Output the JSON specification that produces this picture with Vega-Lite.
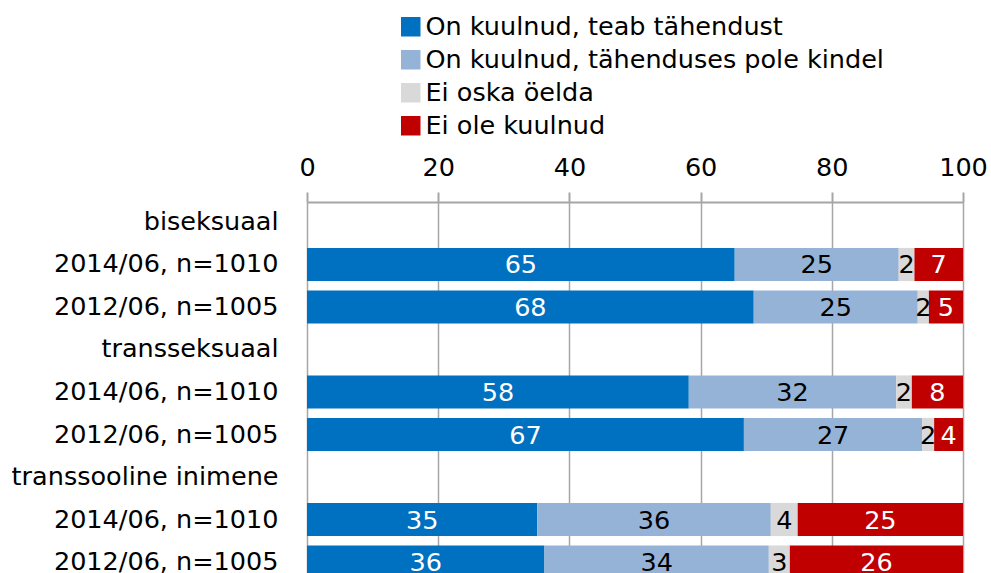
{
  "$schema": "https://vega.github.io/schema/vega-lite/v6.json",
  "width": 656,
  "height": 380,
  "autosize": {"type": "none"},
  "padding": {"left": 307, "top": 202, "right": 28, "bottom": 0},
  "background": "white",
  "config": {
    "font": "DejaVu Sans",
    "view": {"stroke": null}
  },
  "data": {
    "values": [
      {"row": "biseksuaal|2014/06, n=1010", "answer": "On kuulnud, teab tähendust", "rank": 1, "value": 65.2},
      {"row": "biseksuaal|2014/06, n=1010", "answer": "On kuulnud, tähenduses pole kindel", "rank": 2, "value": 25.0},
      {"row": "biseksuaal|2014/06, n=1010", "answer": "Ei oska öelda", "rank": 3, "value": 2.4},
      {"row": "biseksuaal|2014/06, n=1010", "answer": "Ei ole kuulnud", "rank": 4, "value": 7.4},
      {"row": "biseksuaal|2012/06, n=1005", "answer": "On kuulnud, teab tähendust", "rank": 1, "value": 68.1},
      {"row": "biseksuaal|2012/06, n=1005", "answer": "On kuulnud, tähenduses pole kindel", "rank": 2, "value": 25.0},
      {"row": "biseksuaal|2012/06, n=1005", "answer": "Ei oska öelda", "rank": 3, "value": 1.7},
      {"row": "biseksuaal|2012/06, n=1005", "answer": "Ei ole kuulnud", "rank": 4, "value": 5.2},
      {"row": "transseksuaal|2014/06, n=1010", "answer": "On kuulnud, teab tähendust", "rank": 1, "value": 58.2},
      {"row": "transseksuaal|2014/06, n=1010", "answer": "On kuulnud, tähenduses pole kindel", "rank": 2, "value": 31.6},
      {"row": "transseksuaal|2014/06, n=1010", "answer": "Ei oska öelda", "rank": 3, "value": 2.4},
      {"row": "transseksuaal|2014/06, n=1010", "answer": "Ei ole kuulnud", "rank": 4, "value": 7.8},
      {"row": "transseksuaal|2012/06, n=1005", "answer": "On kuulnud, teab tähendust", "rank": 1, "value": 66.6},
      {"row": "transseksuaal|2012/06, n=1005", "answer": "On kuulnud, tähenduses pole kindel", "rank": 2, "value": 27.2},
      {"row": "transseksuaal|2012/06, n=1005", "answer": "Ei oska öelda", "rank": 3, "value": 1.8},
      {"row": "transseksuaal|2012/06, n=1005", "answer": "Ei ole kuulnud", "rank": 4, "value": 4.4},
      {"row": "transsooline inimene|2014/06, n=1010", "answer": "On kuulnud, teab tähendust", "rank": 1, "value": 35.1},
      {"row": "transsooline inimene|2014/06, n=1010", "answer": "On kuulnud, tähenduses pole kindel", "rank": 2, "value": 35.6},
      {"row": "transsooline inimene|2014/06, n=1010", "answer": "Ei oska öelda", "rank": 3, "value": 4.1},
      {"row": "transsooline inimene|2014/06, n=1010", "answer": "Ei ole kuulnud", "rank": 4, "value": 25.2},
      {"row": "transsooline inimene|2012/06, n=1005", "answer": "On kuulnud, teab tähendust", "rank": 1, "value": 36.2},
      {"row": "transsooline inimene|2012/06, n=1005", "answer": "On kuulnud, tähenduses pole kindel", "rank": 2, "value": 34.2},
      {"row": "transsooline inimene|2012/06, n=1005", "answer": "Ei oska öelda", "rank": 3, "value": 3.2},
      {"row": "transsooline inimene|2012/06, n=1005", "answer": "Ei ole kuulnud", "rank": 4, "value": 26.4}
    ]
  },
  "transform": [
    {"stack": "value", "groupby": ["row"], "sort": [{"field": "rank", "order": "ascending"}], "as": ["x0", "x1"]},
    {"calculate": "(datum.x0 + datum.x1) / 2", "as": "xmid"}
  ],
  "encoding": {
    "y": {
      "field": "row",
      "type": "nominal",
      "title": null,
      "scale": {
        "domain": [
          "biseksuaal",
          "biseksuaal|2014/06, n=1010",
          "biseksuaal|2012/06, n=1005",
          "transseksuaal",
          "transseksuaal|2014/06, n=1010",
          "transseksuaal|2012/06, n=1005",
          "transsooline inimene",
          "transsooline inimene|2014/06, n=1010",
          "transsooline inimene|2012/06, n=1005"
        ],
        "paddingInner": 0.22,
        "paddingOuter": 0.08
      },
      "axis": {
        "domain": false,
        "ticks": false,
        "labelPadding": 29,
        "labelFontSize": 25.5,
        "labelColor": "#000000",
        "labelFont": "DejaVu Sans",
        "labelLimit": 400,
        "labelExpr": "indexof(datum.label, '|') >= 0 ? split(datum.label, '|')[1] : datum.label"
      }
    }
  },
  "layer": [
    {
      "mark": {"type": "bar"},
      "encoding": {
        "x": {
          "field": "x0",
          "type": "quantitative",
          "title": null,
          "scale": {"domain": [0, 100], "nice": false},
          "axis": {
            "orient": "top",
            "values": [0, 20, 40, 60, 80, 100],
            "grid": true,
            "gridColor": "#A6A6A6",
            "gridWidth": 1.5,
            "domain": true,
            "domainColor": "#A6A6A6",
            "domainWidth": 2,
            "tickColor": "#A6A6A6",
            "tickSize": 10,
            "tickWidth": 2,
            "labelFontSize": 25.5,
            "labelColor": "#000000",
            "labelFont": "DejaVu Sans",
            "labelPadding": 12,
            "labelFlush": false
          }
        },
        "x2": {"field": "x1"},
        "color": {
          "field": "answer",
          "type": "nominal",
          "scale": {
            "domain": ["On kuulnud, teab tähendust", "On kuulnud, tähenduses pole kindel", "Ei oska öelda", "Ei ole kuulnud"],
            "range": ["#0070C0", "#95B3D7", "#D9D9D9", "#C00000"]
          },
          "legend": {
            "title": null,
            "orient": "none",
            "legendX": 91,
            "legendY": -188,
            "padding": 0,
            "symbolType": "square",
            "symbolSize": 380,
            "symbolStrokeWidth": 0,
            "labelFontSize": 25.5,
            "labelFont": "DejaVu Sans",
            "labelColor": "#000000",
            "labelOffset": 2,
            "rowPadding": 6,
            "labelLimit": 600
          }
        }
      }
    },
    {
      "mark": {"type": "text", "fontSize": 25.5, "font": "DejaVu Sans", "baseline": "middle", "align": "center", "dy": 1},
      "encoding": {
        "x": {"field": "xmid", "type": "quantitative"},
        "text": {"field": "value", "type": "quantitative", "format": ".0f"},
        "color": {
          "condition": {"test": "datum.rank == 1 || datum.rank == 4", "value": "#FFFFFF"},
          "value": "#000000"
        }
      }
    }
  ]
}
